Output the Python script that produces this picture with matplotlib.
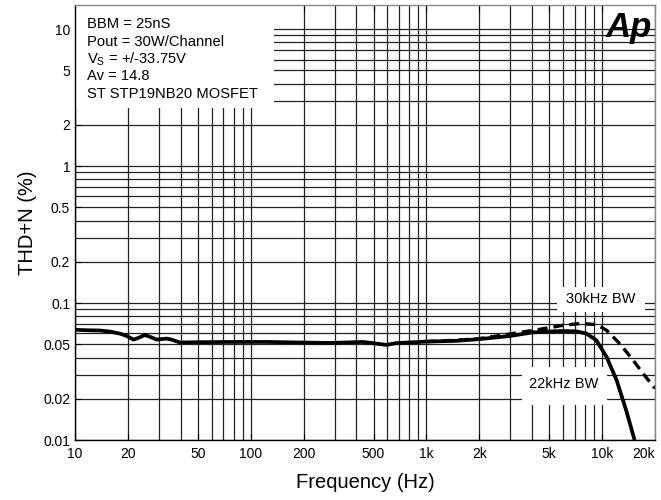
import numpy as np
import matplotlib.pyplot as plt
from matplotlib.ticker import FixedLocator, NullLocator

plt.rcParams['font.family'] = ['Liberation Sans', 'DejaVu Sans']

# 22kHz BW (solid)
f_22k = [10, 11.7, 13.9, 15.8, 18.0, 19.7, 21.5, 22.9, 25.0, 26.7, 29.2, 33.2, 35.4, 39.6,
         51, 79, 123, 283, 436, 591, 675, 1000, 1490, 2000, 3000, 4000, 5000, 6000,
         7140, 8140, 9270, 10600, 12100, 13700, 15300]
thd_22k = [0.0638, 0.0633, 0.063, 0.0619, 0.0598, 0.0575, 0.0541, 0.0556, 0.0584, 0.0567,
           0.0541, 0.055, 0.0541, 0.0515, 0.0518, 0.052, 0.052, 0.0511, 0.052, 0.0495,
           0.051, 0.0523, 0.053, 0.0545, 0.0575, 0.061, 0.062, 0.0625,
           0.0621, 0.0598, 0.0535, 0.0404, 0.0273, 0.0165, 0.0100]

# 30kHz BW (dashed)
f_30k = [1000, 1490, 2000, 3000, 4000, 5000, 6000, 7460, 9270, 10600, 12600, 15000, 17100, 20000]
thd_30k = [0.0523, 0.0535, 0.055, 0.0595, 0.063, 0.066, 0.0688, 0.0708, 0.0697, 0.0633,
           0.0505, 0.0383, 0.0306, 0.0238]

x_ticks = [10, 20, 50, 100, 200, 500, 1000, 2000, 5000, 10000, 20000]
x_labels = ['10', '20', '50', '100', '200', '500', '1k', '2k', '5k', '10k', '20k']
y_ticks = [0.01, 0.02, 0.05, 0.1, 0.2, 0.5, 1, 2, 5, 10]
y_labels = ['0.01', '0.02', '0.05', '0.1', '0.2', '0.5', '1', '2', '5', '10']

notes = ['BBM = 25nS', 'Pout = 30W/Channel', r'V$_\mathregular{S}$ = +/-33.75V',
         'Av = 14.8', 'ST STP19NB20 MOSFET']

fig = plt.figure(figsize=(6.61, 5.0), dpi=100)
ax = fig.add_axes([75 / 661, 60 / 500, 580 / 661, 435 / 500])
ax.set_xscale('log')
ax.set_yscale('log')
ax.set_xlim(10, 20000)
ax.set_ylim(0.01, 15)

# grid lines at every 1-9 step per decade
xgrid = [m * 10 ** e for e in range(1, 5) for m in range(1, 10) if 10 <= m * 10 ** e <= 20000]
ygrid = [m * 10 ** e for e in range(-2, 2) for m in range(1, 10) if 0.01 <= m * 10 ** e <= 15]
for xv in xgrid:
    ax.axvline(xv, color='#222222', lw=0.9, zorder=1)
for yv in ygrid:
    ax.axhline(yv, color='#222222', lw=0.9, zorder=1)

ax.xaxis.set_major_locator(FixedLocator(x_ticks))
ax.set_xticklabels(x_labels)
ax.xaxis.set_minor_locator(NullLocator())
ax.yaxis.set_major_locator(FixedLocator(y_ticks))
ax.set_yticklabels(y_labels)
ax.yaxis.set_minor_locator(NullLocator())
ax.tick_params(axis='both', which='both', direction='in', length=4, width=0.8,
               labelsize=10, top=True, right=False)
ax.tick_params(axis='x', pad=5)
xl = ax.get_xticklabels()
xl[-1].set_horizontalalignment('right')
for s in ax.spines.values():
    s.set_linewidth(1.0)
ax.spines['top'].set_color('#888888')
ax.spines['right'].set_color('#888888')

ax.plot(f_30k, thd_30k, color='black', lw=2.4, ls=(0, (3.0, 1.8)), zorder=3)
ax.plot(f_22k, thd_22k, color='black', lw=2.7, zorder=4, solid_capstyle='butt')

# white boxes hiding grid
tr = ax.transAxes
ax.add_patch(plt.Rectangle((0, (440 - 108) / 435), 199 / 580, 1, transform=tr,
                           facecolor='white', edgecolor='none', zorder=2))
for i, t in enumerate(notes):
    ax.text(12 / 580, (440 - 24 - 17.5 * i) / 435, t, transform=tr, fontsize=10.6,
            va='center', ha='left', zorder=5)

ax.add_patch(plt.Rectangle(((557 - 75) / 580, (440 - 312) / 435), 88 / 580, 25 / 435,
                           transform=tr, facecolor='white', edgecolor='none', zorder=2))
ax.text((601 - 75) / 580, (440 - 299) / 435, '30kHz BW', transform=tr, fontsize=10.5,
        ha='center', va='center', zorder=5)
ax.add_patch(plt.Rectangle(((522 - 75) / 580, (440 - 405) / 435), 85 / 580, 38 / 435,
                           transform=tr, facecolor='white', edgecolor='none', zorder=2))
ax.text((564 - 75) / 580, (440 - 384) / 435, '22kHz BW', transform=tr, fontsize=10.5,
        ha='center', va='center', zorder=5)

ax.text((629 - 75) / 580, (440 - 27) / 435, 'Ap', transform=tr, fontsize=25,
        fontweight='bold', style='italic', ha='center', va='center', zorder=5)

ax.set_xlabel('Frequency (Hz)', fontsize=14.5, labelpad=9)
ax.set_ylabel('THD+N (%)', fontsize=14.5, labelpad=4)

fig.savefig('out.png', dpi=100)
